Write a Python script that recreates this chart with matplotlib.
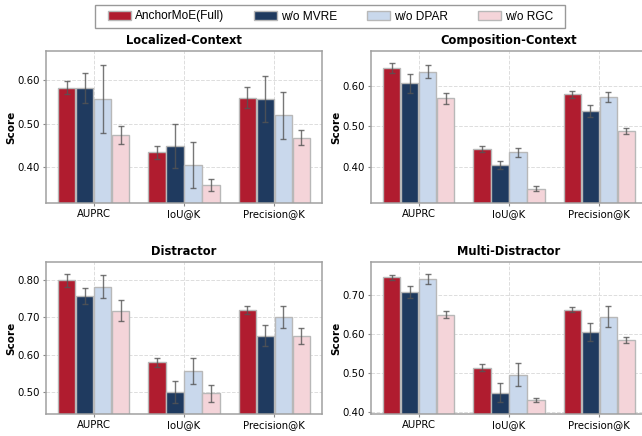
import matplotlib
matplotlib.use("Agg")
import matplotlib.pyplot as plt
from matplotlib.patches import Rectangle
import numpy as np

categories = ["AUPRC", "IoU@K", "Precision@K"]
series = ["AnchorMoE(Full)", "w/o MVRE", "w/o DPAR", "w/o RGC"]
colors = ["#B01C2F", "#1F3A5F", "#C9D8EC", "#F4D4D9"]

panels = ["Localized-Context", "Composition-Context", "Distractor", "Multi-Distractor"]

# values[panel][series] -> per category
values = {
    "Localized-Context": [
        [0.583, 0.434, 0.560],
        [0.582, 0.449, 0.556],
        [0.557, 0.405, 0.520],
        [0.474, 0.359, 0.468],
    ],
    "Composition-Context": [
        [0.644, 0.444, 0.579],
        [0.606, 0.404, 0.537],
        [0.635, 0.436, 0.572],
        [0.569, 0.345, 0.488],
    ],
    "Distractor": [
        [0.798, 0.580, 0.719],
        [0.757, 0.500, 0.651],
        [0.781, 0.556, 0.700],
        [0.717, 0.497, 0.650],
    ],
    "Multi-Distractor": [
        [0.745, 0.513, 0.662],
        [0.707, 0.449, 0.604],
        [0.741, 0.495, 0.643],
        [0.649, 0.430, 0.584],
    ],
}
errors = {
    "Localized-Context": [
        [0.015, 0.015, 0.024],
        [0.035, 0.051, 0.053],
        [0.079, 0.052, 0.054],
        [0.020, 0.013, 0.017],
    ],
    "Composition-Context": [
        [0.012, 0.008, 0.009],
        [0.023, 0.011, 0.015],
        [0.017, 0.011, 0.013],
        [0.013, 0.006, 0.007],
    ],
    "Distractor": [
        [0.018, 0.012, 0.011],
        [0.022, 0.030, 0.028],
        [0.031, 0.034, 0.029],
        [0.028, 0.023, 0.021],
    ],
    "Multi-Distractor": [
        [0.006, 0.009, 0.007],
        [0.016, 0.025, 0.023],
        [0.013, 0.030, 0.027],
        [0.009, 0.006, 0.007],
    ],
}
ylims = {
    "Localized-Context": (0.318, 0.667),
    "Composition-Context": (0.310, 0.686),
    "Distractor": (0.442, 0.847),
    "Multi-Distractor": (0.394, 0.784),
}
yticks = {
    "Localized-Context": [0.40, 0.50, 0.60],
    "Composition-Context": [0.40, 0.50, 0.60],
    "Distractor": [0.50, 0.60, 0.70, 0.80],
    "Multi-Distractor": [0.40, 0.50, 0.60, 0.70],
}

plt.rcParams["font.family"] = ["DejaVu Sans"]
fig = plt.figure(figsize=(6.42, 4.36), dpi=100)

W, H = 642, 436
boxes = [
    (46, 51, 276, 152),
    (371, 51, 276, 152),
    (46, 262, 276, 152),
    (371, 262, 276, 152),
]
x = np.arange(len(categories))
width = 0.19
offsets = [-0.3, -0.1, 0.1, 0.3]
handles = []
for name, (l, t, w, h) in zip(panels, boxes):
    ax = fig.add_axes([l / W, 1 - (t + h) / H, w / W, h / H])
    ax.set_axisbelow(True)
    ax.grid(True, linestyle="--", color="#dddddd", linewidth=0.7)
    for i, s in enumerate(series):
        b = ax.bar(x + offsets[i], values[name][i], width, color=colors[i],
                   edgecolor="#b8b8b8", linewidth=1.0, label=s, zorder=2)
        ax.errorbar(x + offsets[i], values[name][i], yerr=errors[name][i], fmt="none",
                    ecolor="#555555", elinewidth=1.0, capsize=2, capthick=1.0, alpha=0.8, zorder=3)
        if name == panels[0]:
            handles.append(b)
    ax.set_xlim(-0.53, 2.53)
    ax.set_ylim(*ylims[name])
    ax.set_yticks(yticks[name])
    ax.set_yticklabels([f"{v:.2f}" for v in yticks[name]])
    ax.set_xticks(x)
    ax.set_xticklabels(categories)
    ax.tick_params(labelsize=7.3, length=2.5, width=0.8, color="#888888", pad=2)
    ax.set_title(name, fontsize=8.3, fontweight="bold", pad=5)
    ax.set_ylabel("Score", fontsize=7.5, fontweight="bold", labelpad=1.0)
    for sp in ax.spines.values():
        sp.set_color("#a0a0a0")
        sp.set_linewidth(1.1)

leg = fig.legend(handles, series, loc="center", bbox_to_anchor=(0.515, 1 - 16.5 / H), ncol=4,
                 prop={"family": "Liberation Sans", "size": 8.6}, frameon=False,
                 handlelength=1.9, handleheight=0.85, handletextpad=0.35,
                 columnspacing=2.5, borderpad=0.45)
fig.add_artist(Rectangle((95 / W, 1 - 28.5 / H), 470 / W, 23.5 / H, transform=fig.transFigure,
                         fill=False, edgecolor="#999999", linewidth=1.0))

fig.savefig("out.png", dpi=100)
